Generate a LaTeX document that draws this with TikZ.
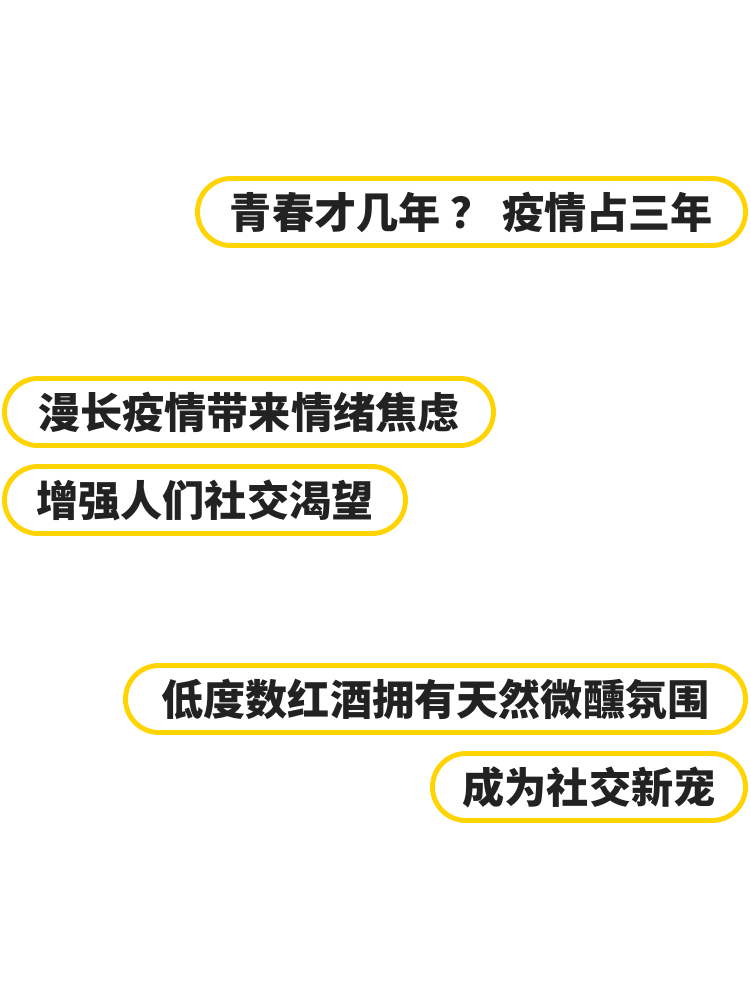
\documentclass[tikz,border=0pt]{standalone}
\usepackage{fontspec}
\newfontfamily\cjk{Noto Sans CJK SC}
\usetikzlibrary{shapes.misc}
\definecolor{tagyellow}{HTML}{FFD400}
\definecolor{tagtext}{HTML}{222222}
\tikzset{
  tag/.style={rounded rectangle, draw=tagyellow, line width=2.8pt, fill=white,
    minimum height=1.34cm, inner xsep=0pt, text=tagtext,
    font=\cjk\bfseries\fontsize{24}{24}\selectfont}
}
\begin{document}
\begin{tikzpicture}
  \useasboundingbox[fill=white] (0,0) rectangle (15,-20);
  \node[tag, minimum width=10.96cm] (youth) at (9.43,-4.24) {青春才几年 ？ 疫情占三年};
  \node[tag, minimum width=9.78cm] (anxiety) at (4.98,-8.24) {漫长疫情带来情绪焦虑};
  \node[tag, minimum width=8.02cm] (desire) at (4.10,-10.0) {增强人们社交渴望};
  \node[tag, minimum width=12.4cm] (wine) at (8.71,-13.98) {低度数红酒拥有天然微醺氛围};
  \node[tag, minimum width=6.26cm] (social) at (11.78,-15.74) {成为社交新宠};
\end{tikzpicture}
\end{document}
